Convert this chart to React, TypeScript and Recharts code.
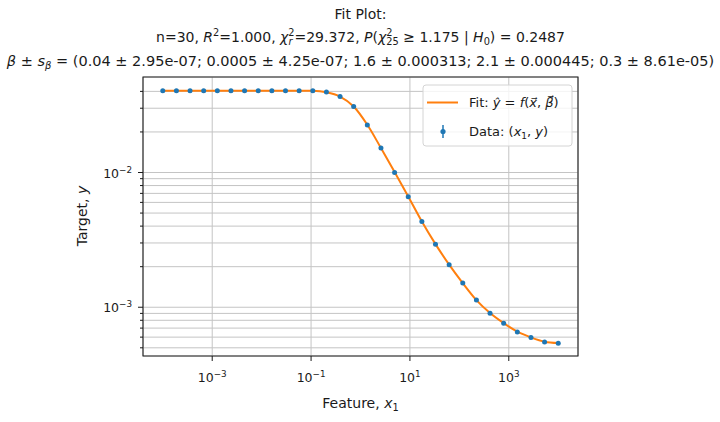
import React from "react";
import {
  ComposedChart,
  Line,
  XAxis,
  YAxis,
  CartesianGrid,
  ReferenceArea,
} from "recharts";

const featureX = [
  1e-4, 1.887e-4, 3.562e-4, 6.723e-4, 1.269e-3, 2.395e-3, 4.52e-3, 8.532e-3,
  1.61e-2, 3.039e-2, 5.736e-2, 0.1083, 0.2043, 0.3857, 0.7279, 1.374, 2.593,
  4.894, 9.237, 17.43, 32.9, 62.1, 117.2, 221.2, 417.5, 788.1, 1487, 2807,
  5298, 10000,
];

// observed target values
const targetY = [
  0.0405, 0.0405, 0.0405, 0.0405, 0.0405, 0.0405, 0.0405, 0.0405, 0.0405,
  0.0405, 0.0405, 0.0405, 0.0395, 0.0366, 0.0309, 0.0225, 0.0152, 0.01,
  0.00662, 0.00433, 0.00294, 0.00207, 0.00151, 0.00113, 0.000904, 0.000762,
  0.000656, 0.000596, 0.000553, 0.000541,
];

// fitted curve
const fitY = [
  0.0405, 0.0405, 0.0405, 0.0405, 0.0405, 0.0405, 0.0405, 0.0405, 0.0405,
  0.0405, 0.0405, 0.0404, 0.0394, 0.0366, 0.0309, 0.0226, 0.0152, 0.0101,
  0.00664, 0.00433, 0.00294, 0.00207, 0.00151, 0.00113, 0.000906, 0.000762,
  0.000658, 0.000597, 0.000555, 0.000542,
];

const xTicks = [1e-3, 1e-1, 1e1, 1e3];
const xTickExp = ["−3", "−1", "1", "3"];
const yTicks = [
  5e-4, 6e-4, 7e-4, 8e-4, 9e-4, 1e-3, 2e-3, 3e-3, 4e-3, 5e-3, 6e-3, 7e-3, 8e-3,
  9e-3, 1e-2, 2e-2, 3e-2, 4e-2,
];
const yTickExp = [
  "", "", "", "", "", "−3", "", "", "", "", "", "", "", "", "−2", "", "", "",
];

const xDomain = [3.98e-5, 25119];
const yDomain = [4.346e-4, 0.05115];

const rows = featureX.map((x, i) => ({ x, y: targetY[i], fit: fitY[i] }));

const FONT = "DejaVu Sans";
const INK = "#1a1a1a";
const BLUE = "#1f77b4";
const ORANGE = "#ff7f0e";

const XTick = ({ x, y, payload }: any) => {
  const exp = xTickExp[xTicks.indexOf(payload.value)];
  return (
    <g>
      <line x1={x} x2={x} y1={y} y2={y + 5} stroke={INK} strokeWidth={1} />
      <text x={x} y={y + 26} textAnchor="middle" fontSize={12.5} fontFamily={FONT} fill={INK}>
        10<tspan fontSize={8.8} dy={-5}>{exp}</tspan>
      </text>
    </g>
  );
};

const YTick = ({ x, y, payload }: any) => {
  const exp = yTickExp[yTicks.indexOf(payload.value)];
  const len = exp ? 5 : 3;
  return (
    <g>
      <line x1={x - len} x2={x} y1={y} y2={y} stroke={INK} strokeWidth={1} />
      {exp && (
        <text x={x - 11} y={y + 5} textAnchor="end" fontSize={12.5} fontFamily={FONT} fill={INK}>
          10<tspan fontSize={8.8} dy={-5}>{exp}</tspan>
        </text>
      )}
    </g>
  );
};

const Overlay = () => (
  <svg
    width={720}
    height={422}
    style={{ position: "absolute", left: 0, top: 0, pointerEvents: "none" }}
    fontFamily={FONT}
    fill={INK}
  >
    <text x={360.5} y={19} textAnchor="middle" fontSize={14}>Fit Plot:</text>
    <text x={360.5} y={42} textAnchor="middle" fontSize={14}>
      {"n=30, "}
      <tspan fontStyle="italic">R</tspan>
      <tspan fontSize={9.8} dy={-6}>2</tspan>
      <tspan dy={6}>{"=1.000, "}</tspan>
      <tspan fontStyle="italic">χ</tspan>
      <tspan fontSize={9.8} dy={-6}>2</tspan>
      <tspan fontSize={9.8} fontStyle="italic" dx={-6.2} dy={9}>r</tspan>
      <tspan dx={2} dy={-3}>{"=29.372, "}</tspan>
      <tspan fontStyle="italic">P</tspan>
      <tspan>(</tspan>
      <tspan fontStyle="italic">χ</tspan>
      <tspan fontSize={9.8} dy={-6}>2</tspan>
      <tspan fontSize={9.8} dx={-6.2} dy={9}>25</tspan>
      <tspan dy={-3}>{" ≥ 1.175 | "}</tspan>
      <tspan fontStyle="italic">H</tspan>
      <tspan fontSize={9.8} dy={3}>0</tspan>
      <tspan dy={-3}>{") = 0.2487"}</tspan>
    </text>
    <text x={360.5} y={66} textAnchor="middle" fontSize={14.5}>
      <tspan fontStyle="italic">β</tspan>
      <tspan>{" ± "}</tspan>
      <tspan fontStyle="italic">s</tspan>
      <tspan fontSize={10} fontStyle="italic" dy={3}>β</tspan>
      <tspan dy={-3}>
        {" = (0.04 ± 2.95e-07; 0.0005 ± 4.25e-07; 1.6 ± 0.000313; 2.1 ± 0.000445; 0.3 ± 8.61e-05)"}
      </tspan>
    </text>

    <text
      x={82}
      y={216}
      transform="rotate(-90, 82, 216)"
      textAnchor="middle"
      dominantBaseline="central"
      fontSize={14}
    >
      {"Target, "}
      <tspan fontStyle="italic">y</tspan>
    </text>
    <text x={360.5} y={408} textAnchor="middle" fontSize={14}>
      {"Feature, "}
      <tspan fontStyle="italic">x</tspan>
      <tspan fontSize={9.8} dy={3}>1</tspan>
    </text>

    <rect x={423} y={85} width={149} height={61} rx={3} fill="#fff" fillOpacity={0.8} stroke="#d4d4d4" />
    <line x1={427} x2={458} y1={102.5} y2={102.5} stroke={ORANGE} strokeWidth={2} />
    <text x={469} y={107} fontSize={13}>
      {"Fit: "}
      <tspan fontStyle="italic">ŷ</tspan>
      <tspan>{" = "}</tspan>
      <tspan fontStyle="italic">f</tspan>
      <tspan>(</tspan>
      <tspan fontStyle="italic">{"x\u20d7"}</tspan>
      <tspan>{", "}</tspan>
      <tspan fontStyle="italic">{"β\u20d7"}</tspan>
      <tspan>)</tspan>
    </text>
    <line x1={443} x2={443} y1={125} y2={138} stroke={BLUE} strokeWidth={1.5} />
    <circle cx={443} cy={131.5} r={2.6} fill={BLUE} />
    <text x={469} y={136} fontSize={13}>
      {"Data: ("}
      <tspan fontStyle="italic">x</tspan>
      <tspan fontSize={9} dy={3}>1</tspan>
      <tspan dy={-3}>{", "}</tspan>
      <tspan fontStyle="italic">y</tspan>
      <tspan>)</tspan>
    </text>
  </svg>
);

export default function App() {
  return (
    <div style={{ position: "absolute", left: 0, top: 0, width: 720, height: 422, background: "#fff" }}>
      <ComposedChart
        width={720}
        height={422}
        data={rows}
        margin={{ top: 77, right: 142, bottom: 0, left: 0 }}
      >
        <CartesianGrid stroke="#c4c4c4" strokeWidth={1} />
        <XAxis
          dataKey="x"
          type="number"
          scale="log"
          domain={xDomain}
          ticks={xTicks}
          interval={0}
          allowDataOverflow
          axisLine={false}
          tickLine={false}
          tickSize={0}
          tickMargin={0}
          height={66}
          tick={<XTick />}
        />
        <YAxis
          type="number"
          scale="log"
          domain={yDomain}
          ticks={yTicks}
          interval={0}
          allowDataOverflow
          axisLine={false}
          tickLine={false}
          tickSize={0}
          tickMargin={0}
          width={143}
          tick={<YTick />}
        />
        <Line
          dataKey="fit"
          type="monotone"
          stroke={ORANGE}
          strokeWidth={2}
          dot={false}
          isAnimationActive={false}
        />
        <Line
          dataKey="y"
          stroke="none"
          dot={{ r: 2.5, fill: BLUE, stroke: "none" }}
          isAnimationActive={false}
        />
        <ReferenceArea
          x1={xDomain[0]}
          x2={xDomain[1]}
          y1={yDomain[0]}
          y2={yDomain[1]}
          fill="none"
          stroke="#222"
          strokeWidth={1.1}
          ifOverflow="visible"
        />
      </ComposedChart>
      <Overlay />
    </div>
  );
}
